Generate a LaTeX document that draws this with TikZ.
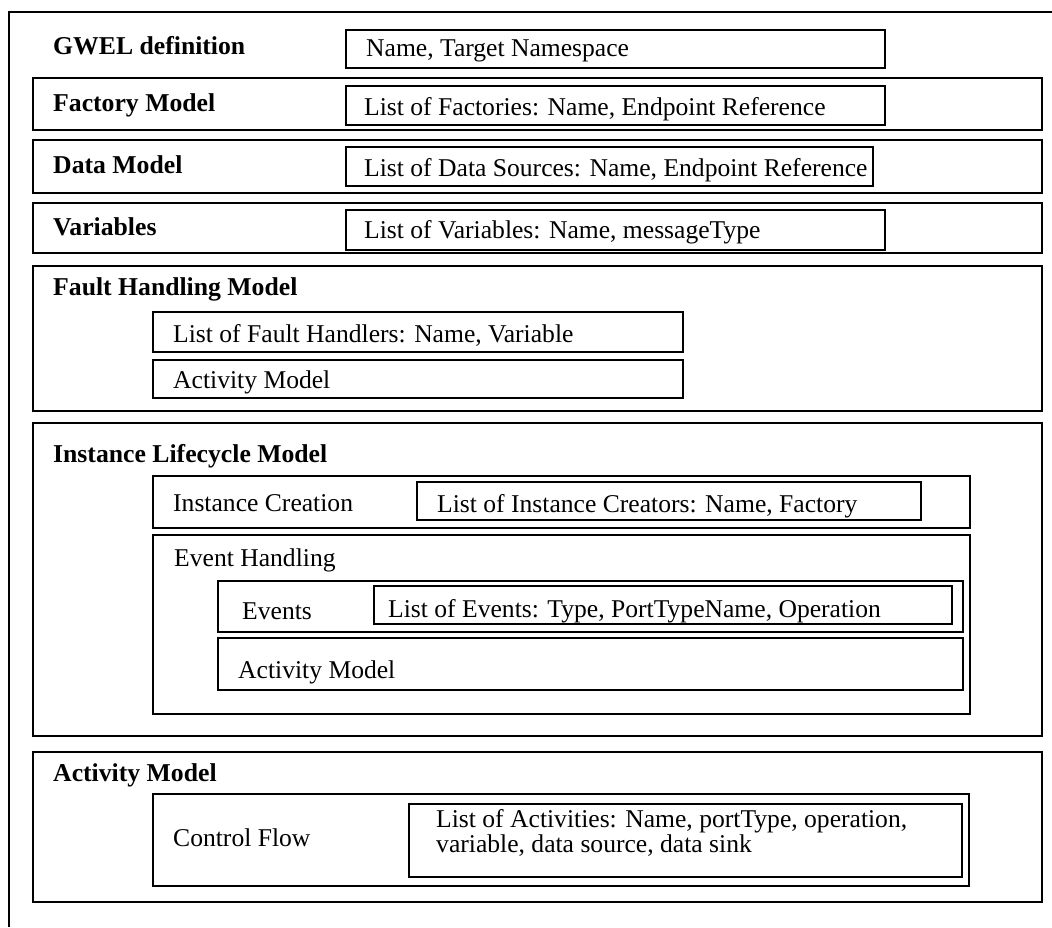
\documentclass[tikz,border=0pt]{standalone}
\usepackage{fontspec}
\setmainfont{Liberation Serif}
\newcommand{\bx}[5]{%
  \pgfmathsetmacro{\bw}{#4-#2}\pgfmathsetmacro{\bh}{#5-#3}%
  \node[box, minimum width=\bw pt, minimum height=\bh pt] (#1) at (#2,#3) {};}
\begin{document}
\begin{tikzpicture}[x=1pt,y=-1pt,
  box/.style={draw, line width=1.6pt, anchor=north west, inner sep=0pt, outer sep=0pt},
  lbl/.style={anchor=base west, inner sep=0pt, font=\fontsize{25.6}{19.5}\selectfont},
  blbl/.style={lbl, font=\fontsize{25.7}{31}\selectfont\bfseries}]
\useasboundingbox (0,0) rectangle (1052,927);
% outer frame
\coordinate (fbl) at (9,927);
\coordinate (ftl) at (9,12);
\coordinate (ftr) at (1052,12);
\draw[line width=1.6pt] (fbl) -- (ftl) -- (ftr);
% GWEL definition
\node[blbl] (gwel) at (53,54) {GWEL definition};
\bx{gwelb}{346}{30}{885}{68}
\node[lbl] at (366,56) {Name, Target Namespace};
% Factory model
\bx{fact}{33}{78}{1042}{130}
\node[blbl] at (53,111) {Factory Model};
\bx{factb}{346}{86}{885}{125}
\node[lbl] at (364,115) {List of Factories: Name, Endpoint Reference};
% Data model
\bx{data}{33}{140}{1042}{193}
\node[blbl] at (53,173) {Data Model};
\bx{datab}{346}{147}{873}{186}
\node[lbl] at (364,176) {List of Data Sources: Name, Endpoint Reference};
% Variables
\bx{vars}{33}{203}{1042}{253}
\node[blbl] at (53,235) {Variables};
\bx{varsb}{346}{210}{885}{250}
\node[lbl] at (364,238) {List of Variables: Name, messageType};
% Fault handling
\bx{fault}{33}{266}{1042}{411}
\node[blbl] at (53,295) {Fault Handling Model};
\bx{faultl}{153}{312}{683}{352}
\node[lbl] at (173,342) {List of Fault Handlers: Name, Variable};
\bx{faulta}{153}{360}{683}{398}
\node[lbl] at (173,388) {Activity Model};
% Instance lifecycle
\bx{ilm}{33}{423}{1042}{736}
\node[blbl] at (53,462) {Instance Lifecycle Model};
\bx{ic}{153}{476}{970}{528}
\node[lbl] at (173,511) {Instance Creation};
\bx{icl}{417}{482}{921}{520}
\node[lbl] at (437,512) {List of Instance Creators: Name, Factory};
\bx{eh}{153}{535}{970}{714}
\node[lbl] at (174,566) {Event Handling};
\bx{ev}{218}{581}{963}{632}
\node[lbl] at (242,619) {Events};
\bx{evl}{374}{586}{952}{624}
\node[lbl] at (388,617) {List of Events: Type, PortTypeName, Operation};
\bx{eha}{218}{638}{963}{690}
\node[lbl] at (238,678) {Activity Model};
% Activity model
\bx{am}{33}{752}{1042}{902}
\node[blbl] at (53,781) {Activity Model};
\bx{cf}{153}{794}{969}{886}
\node[lbl] at (173,846) {Control Flow};
\bx{cfl}{409}{804}{962}{877}
\node[lbl, align=left] at (436,852) {List of Activities: Name, portType, operation,\\variable, data source, data sink};
\end{tikzpicture}
\end{document}
